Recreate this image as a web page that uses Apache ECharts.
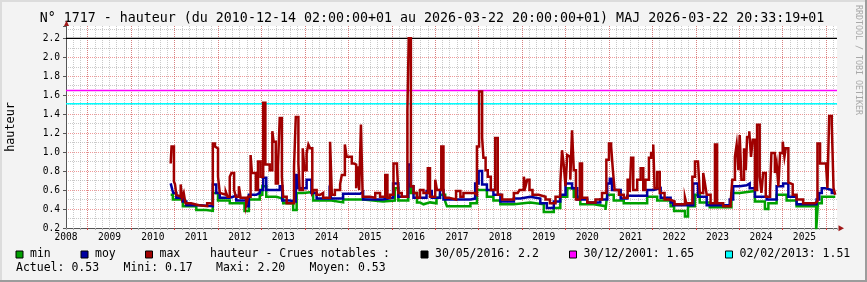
<!DOCTYPE html>
<html><head><meta charset="utf-8">
<script src="https://cdn.jsdelivr.net/npm/echarts@6/dist/echarts.min.js"></script>
<style>html,body{margin:0;padding:0;background:#f3f3f3}#c{width:867px;height:282px}</style>
</head><body><div id="c"></div><script>
// ---- data (time as decimal year) ----
const titleText = 'N° 1717 - hauteur (du 2010-12-14 02:00:00+01 au 2026-03-22 20:00:00+01) MAJ 2026-03-22 20:33:19+01';
const yearLabels = [2008,2009,2010,2011,2012,2013,2014,2015,2016,2017,2018,2019,2020,2021,2022,2023,2024,2025];
const yearLines = [2009,2010,2011,2012,2013,2014,2015,2016,2017,2018,2019,2020,2021,2022,2023,2024,2025,2026];
const seriesNames = ['min','moy','max'];
const floods = [
  {date:'30/05/2016', value:2.2, color:'#000000'},
  {date:'30/12/2001', value:1.65, color:'#ff00ff'},
  {date:'02/02/2013', value:1.51, color:'#00ffff'}
];
const stats = [['Actuel','0.53'],['Mini','0.17'],['Maxi','2.20'],['Moyen','0.53']];

const maxData = [[2010.91,0.88],[2010.93,1.06],[2010.985,0.69],[2011.01,0.66],[2011.04,0.55],[2011.08,0.53],[2011.14,0.66],[2011.17,0.52],[2011.21,0.57],[2011.25,0.46],[2011.38,0.44],[2011.56,0.46],[2011.60,0.43],[2011.75,0.46],[2011.82,0.45],[2011.88,1.09],[2011.93,1.06],[2011.96,1.04],[2012.00,0.74],[2012.04,0.57],[2012.08,0.55],[2012.18,0.58],[2012.22,0.53],[2012.27,0.74],[2012.31,0.78],[2012.37,0.60],[2012.41,0.53],[2012.48,0.64],[2012.52,0.52],[2012.58,0.50],[2012.62,0.52],[2012.65,0.45],[2012.69,0.53],[2012.75,0.97],[2012.78,0.78],[2012.87,0.60],[2012.92,0.90],[2012.98,0.74],[2013.04,1.52],[2013.09,0.87],[2013.19,0.81],[2013.25,1.22],[2013.28,1.11],[2013.33,0.67],[2013.38,0.85],[2013.42,1.36],[2013.47,0.74],[2013.50,0.53],[2013.58,0.46],[2013.75,0.85],[2013.79,1.37],[2013.85,0.88],[2013.88,0.60],[2013.95,1.04],[2013.99,0.81],[2014.04,0.99],[2014.08,1.08],[2014.12,1.04],[2014.17,0.57],[2014.21,0.60],[2014.27,0.55],[2014.35,0.57],[2014.42,0.52],[2014.58,1.11],[2014.62,0.55],[2014.69,0.60],[2014.81,0.66],[2014.85,0.76],[2014.92,1.08],[2014.96,0.95],[2015.08,0.88],[2015.13,0.87],[2015.18,0.62],[2015.21,0.85],[2015.25,0.60],[2015.29,1.29],[2015.33,0.53],[2015.50,0.52],[2015.62,0.57],[2015.73,0.53],[2015.85,0.76],[2015.90,0.52],[2015.96,0.55],[2016.04,0.88],[2016.12,0.85],[2016.15,0.57],[2016.23,0.53],[2016.36,1.43],[2016.39,2.20],[2016.44,0.64],[2016.50,0.57],[2016.58,0.52],[2016.65,0.60],[2016.73,0.57],[2016.83,0.83],[2016.88,0.53],[2017.00,0.71],[2017.04,0.60],[2017.14,1.06],[2017.19,0.57],[2017.23,0.52],[2017.31,0.50],[2017.48,0.59],[2017.58,0.53],[2017.65,0.57],[2017.81,0.57],[2017.90,0.55],[2017.96,1.06],[2018.01,1.64],[2018.08,1.15],[2018.11,0.94],[2018.16,0.81],[2018.21,0.74],[2018.28,0.60],[2018.38,1.15],[2018.44,0.55],[2018.54,0.50],[2018.81,0.57],[2018.90,0.55],[2018.94,0.60],[2019.04,0.74],[2019.08,0.64],[2019.12,0.71],[2019.17,0.60],[2019.24,0.55],[2019.38,0.53],[2019.54,0.50],[2019.64,0.46],[2019.77,0.53],[2019.88,0.67],[2019.92,1.02],[2019.96,0.86],[2020.00,0.64],[2020.04,0.97],[2020.08,0.95],[2020.11,0.71],[2020.15,1.23],[2020.19,0.81],[2020.24,0.50],[2020.33,0.88],[2020.38,0.52],[2020.50,0.47],[2020.69,0.50],[2020.84,0.57],[2020.94,0.92],[2021.00,1.09],[2021.05,1.06],[2021.09,0.81],[2021.13,0.60],[2021.23,0.55],[2021.34,0.52],[2021.43,0.71],[2021.48,0.58],[2021.51,0.94],[2021.56,0.60],[2021.65,0.71],[2021.73,0.83],[2021.79,0.60],[2021.84,0.71],[2021.92,0.94],[2021.97,0.99],[2022.02,1.08],[2022.05,0.62],[2022.11,0.79],[2022.17,0.57],[2022.28,0.50],[2022.40,0.48],[2022.51,0.45],[2022.75,0.52],[2022.78,0.46],[2022.92,0.74],[2022.98,0.90],[2023.05,0.88],[2023.09,0.57],[2023.17,0.78],[2023.21,0.67],[2023.25,0.55],[2023.34,0.46],[2023.44,1.08],[2023.49,0.46],[2023.63,0.43],[2023.80,0.46],[2023.84,0.71],[2023.90,0.95],[2023.94,1.08],[2023.98,0.81],[2024.01,1.18],[2024.05,0.71],[2024.11,1.04],[2024.15,0.81],[2024.18,1.16],[2024.23,1.22],[2024.27,0.95],[2024.31,1.13],[2024.36,0.60],[2024.41,1.29],[2024.47,0.74],[2024.51,0.57],[2024.55,0.78],[2024.61,0.53],[2024.71,0.60],[2024.74,0.99],[2024.82,0.78],[2024.86,0.88],[2024.90,0.64],[2024.94,0.99],[2025.00,1.11],[2025.04,0.95],[2025.07,1.04],[2025.13,0.68],[2025.17,0.66],[2025.23,0.55],[2025.32,0.50],[2025.47,0.46],[2025.74,0.48],[2025.80,1.09],[2025.86,0.88],[2025.95,0.88],[2026.00,0.85],[2026.03,0.62],[2026.07,1.38],[2026.13,1.29],[2026.17,0.62],[2026.21,0.55]];

const moyData = [[2010.91,0.67],[2010.95,0.60],[2010.97,0.57],[2011.04,0.52],[2011.19,0.48],[2011.27,0.44],[2011.58,0.43],[2011.88,0.66],[2011.96,0.57],[2012.04,0.52],[2012.27,0.54],[2012.42,0.49],[2012.65,0.43],[2012.71,0.55],[2012.88,0.57],[2012.96,0.60],[2013.04,0.73],[2013.11,0.60],[2013.42,0.64],[2013.48,0.49],[2013.65,0.48],[2013.79,0.76],[2013.84,0.62],[2014.04,0.71],[2014.15,0.57],[2014.27,0.51],[2014.57,0.57],[2014.61,0.51],[2014.88,0.56],[2015.27,0.58],[2015.34,0.50],[2015.80,0.52],[2016.03,0.67],[2016.15,0.53],[2016.38,0.87],[2016.44,0.64],[2016.50,0.52],[2016.80,0.59],[2016.92,0.52],[2017.11,0.60],[2017.19,0.50],[2017.81,0.51],[2017.92,0.67],[2018.00,0.80],[2018.08,0.66],[2018.19,0.60],[2018.34,0.55],[2018.50,0.48],[2018.81,0.51],[2018.96,0.53],[2019.19,0.51],[2019.42,0.46],[2019.57,0.41],[2019.73,0.48],[2019.88,0.55],[2020.00,0.67],[2020.15,0.62],[2020.27,0.50],[2020.50,0.47],[2020.80,0.50],[2020.96,0.67],[2021.02,0.72],[2021.07,0.60],[2021.27,0.51],[2021.42,0.54],[2021.88,0.60],[2022.03,0.62],[2022.19,0.52],[2022.42,0.47],[2022.48,0.44],[2022.94,0.67],[2023.05,0.53],[2023.25,0.44],[2023.78,0.50],[2023.86,0.64],[2024.01,0.65],[2024.17,0.67],[2024.24,0.62],[2024.36,0.53],[2024.63,0.50],[2024.86,0.64],[2025.01,0.67],[2025.13,0.53],[2025.32,0.45],[2025.78,0.50],[2025.84,0.57],[2025.90,0.62],[2025.97,0.60],[2026.13,0.57],[2026.21,0.57]];

const minData = [[2010.91,0.55],[2010.96,0.50],[2011.19,0.43],[2011.50,0.39],[2011.73,0.38],[2011.88,0.57],[2012.00,0.49],[2012.27,0.46],[2012.61,0.38],[2012.71,0.50],[2012.96,0.55],[2013.02,0.64],[2013.11,0.53],[2013.34,0.51],[2013.50,0.46],[2013.73,0.39],[2013.81,0.57],[2013.96,0.58],[2014.19,0.49],[2014.61,0.47],[2014.88,0.50],[2015.34,0.48],[2015.80,0.49],[2016.07,0.62],[2016.15,0.49],[2016.38,0.66],[2016.44,0.57],[2016.58,0.47],[2016.65,0.45],[2016.73,0.47],[2016.88,0.46],[2017.03,0.52],[2017.11,0.55],[2017.23,0.48],[2017.27,0.43],[2017.81,0.46],[2017.96,0.60],[2018.19,0.53],[2018.34,0.49],[2018.50,0.45],[2018.81,0.47],[2019.19,0.45],[2019.50,0.37],[2019.73,0.41],[2019.88,0.53],[2020.04,0.62],[2020.19,0.53],[2020.34,0.45],[2020.65,0.43],[2020.92,0.39],[2020.96,0.55],[2021.11,0.49],[2021.34,0.46],[2021.88,0.53],[2022.11,0.49],[2022.42,0.43],[2022.50,0.38],[2022.75,0.32],[2022.82,0.43],[2022.98,0.55],[2023.09,0.47],[2023.32,0.42],[2023.82,0.57],[2024.01,0.59],[2024.36,0.48],[2024.59,0.40],[2024.67,0.46],[2024.86,0.55],[2025.09,0.49],[2025.32,0.43],[2025.77,0.17],[2025.81,0.46],[2025.90,0.53],[2026.01,0.53],[2026.21,0.53]];

// ---- chart ----
const FONT = 'DejaVu Sans Mono';
const COLORS = {min:'#00a000', moy:'#0000a0', max:'#a00000'};
const toM = t => (t - 2000) * 12;        // months since 2000
const X0 = toM(2008.5), X1 = toM(2026.25);
const conv = arr => arr.map(p => [toM(p[0]), p[1]]);
const redGrid = {color:'rgba(225,70,70,0.55)', width:1, type:[1,1]};
const grayGrid = {color:'rgba(150,150,150,0.5)', width:1, type:[1,1]};

const chart = echarts.init(document.getElementById('c'), null, {renderer:'canvas'});

const graphic = [];
graphic.push({type:'rect', shape:{x:0,y:0,width:867,height:2}, style:{fill:'#dcdcdc'}, silent:true});
graphic.push({type:'rect', shape:{x:0,y:0,width:2,height:282}, style:{fill:'#dcdcdc'}, silent:true});
graphic.push({type:'rect', shape:{x:865,y:0,width:2,height:282}, style:{fill:'#9c9c9c'}, silent:true});
graphic.push({type:'rect', shape:{x:0,y:280,width:867,height:2}, style:{fill:'#9c9c9c'}, silent:true});
graphic.push({type:'text', x:432, y:19, style:{text:titleText, font:'13.3px "DejaVu Sans Mono"', fill:'#000', align:'center', verticalAlign:'middle'}});
graphic.push({type:'text', x:11, y:127, rotation:Math.PI/2, style:{text:'hauteur', font:'11.8px "DejaVu Sans Mono"', fill:'#000', align:'center', verticalAlign:'middle'}});
graphic.push({type:'text', x:858, y:60, rotation:-Math.PI/2, style:{text:'RRDTOOL / TOBI OETIKER', font:'8.3px "DejaVu Sans Mono"', fill:'#a8a8a8', align:'center', verticalAlign:'middle'}});
graphic.push({type:'polygon', shape:{points:[[838.5,225.3],[844,228.3],[838.5,231.3]]}, style:{fill:'#a01818'}});
graphic.push({type:'polygon', shape:{points:[[64,26],[66.5,20.5],[69,26]]}, style:{fill:'#a01818'}});
const legFont = '11.5px "DejaVu Sans Mono"';
const row1 = 254.5, row2 = 268;
const swatch = (x, color) => ({type:'rect', shape:{x:x+0.5, y:row1-3.5, width:7, height:7}, style:{fill:color, stroke:'#000', lineWidth:1}});
const label = (x, y, t) => ({type:'text', x:x, y:y, style:{text:t, font:legFont, fill:'#000', align:'left', verticalAlign:'middle'}});
const sx = [15.5, 80.5, 145];
seriesNames.forEach((n, i) => { graphic.push(swatch(sx[i], COLORS[n])); graphic.push(label(sx[i] + 14.5, row1, n)); });
graphic.push(label(210, row1, 'hauteur - Crues notables :'));
const fx = [420.5, 569, 725];
floods.forEach((f, i) => { graphic.push(swatch(fx[i], f.color)); graphic.push(label(fx[i] + 14.5, row1, f.date + ': ' + f.value)); });
const stx = [16, 123.5, 216, 309.5];
stats.forEach((s, i) => graphic.push(label(stx[i], row2, s[0] + ': ' + s[1])));

const series = [];
floods.forEach(f => series.push({type:'line', data:[[X0, f.value],[X1, f.value]], symbol:'none', silent:true, z:1, lineStyle:{color:f.color, width:1.3}}));
[['min', minData],['moy', moyData],['max', maxData]].forEach(([n, d], i) => series.push({
  type:'line', name:n, data:conv(d), step:'end', symbol:'none', showSymbol:false, silent:true, z:2+i,
  lineStyle:{color:COLORS[n], width:2.5, cap:'butt', join:'miter'}
}));

chart.setOption({
  animation:false,
  backgroundColor:'#f3f3f3',
  textStyle:{fontFamily:FONT},
  grid:{left:66, right:30, top:26, bottom:54, show:true, backgroundColor:'#ffffff', borderWidth:0, containLabel:false},
  xAxis:[
    {type:'value', min:X0, max:X1, interval:2,
     axisLine:{show:true, onZero:false, lineStyle:{color:'#555', width:1}},
     axisTick:{show:true, length:2, lineStyle:{color:'#aaa'}}, axisLabel:{show:false},
     splitLine:{show:true, showMinLine:false, showMaxLine:false, lineStyle:grayGrid}},
    {type:'value', min:X0, max:X1, position:'bottom',
     axisLine:{show:false},
     axisTick:{show:true, length:2, customValues:yearLines.map(toM), lineStyle:{color:'#d04040'}},
     axisLabel:{show:true, customValues:yearLabels.map(y => toM(y + 0.5)), formatter:v => String(Math.round(2000 + v/12 - 0.5)), fontFamily:FONT, fontSize:9.6, color:'#000', margin:4},
     splitLine:{show:true, lineStyle:redGrid}}
  ],
  yAxis:{type:'value', min:0.2, max:2.33, interval:0.2,
     axisLine:{show:true, onZero:false, lineStyle:{color:'#555', width:1}},
     axisTick:{show:true, length:3, lineStyle:{color:'#555'}},
     axisLabel:{formatter:v => v > 2.25 ? '' : v.toFixed(1), fontFamily:FONT, fontSize:9.6, color:'#000', margin:6},
     splitLine:{show:true, showMinLine:false, showMaxLine:false, lineStyle:redGrid},
     minorTick:{show:false, splitNumber:2},
     minorSplitLine:{show:true, lineStyle:grayGrid}},
  series:series,
  graphic:graphic
});
</script></body></html>
